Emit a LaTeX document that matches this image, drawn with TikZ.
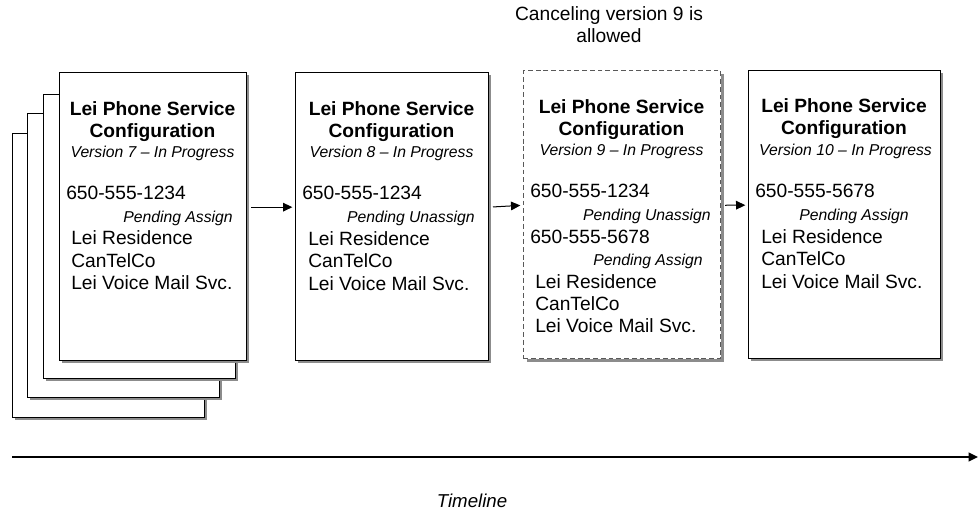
\documentclass[tikz,border=0pt]{standalone}
\usepackage{fontspec}
\setmainfont{Liberation Sans}
\usetikzlibrary{positioning,arrows.meta,shadows}
\tikzset{
card/.style={
draw,
line width=0.75pt,
fill=white,
anchor=north west,
minimum height=216pt,
inner sep=0pt,
drop shadow={shadow xshift=2.2pt,shadow yshift=-2.2pt,fill=black!45,opacity=1}
},
cardtitle/.style={
font=\fontsize{14.4}{17}\selectfont\bfseries,
anchor=base,
inner sep=0pt
},
cardver/.style={
font=\fontsize{11.8}{14}\selectfont\itshape,
anchor=base,
inner sep=0pt
},
item/.style={
font=\fontsize{14.4}{17}\selectfont,
anchor=base west,
inner sep=0pt
},
pend/.style={
font=\fontsize{11.8}{14}\selectfont\itshape,
anchor=base east,
inner sep=0pt
},
note/.style={
font=\fontsize{14.4}{16.5}\selectfont,
align=center,
inner sep=0pt
},
arrow/.style={
-{Triangle[length=7pt,width=6.5pt]},
line width=0.75pt,
shorten <=3pt,
shorten >=2pt
}
}

\begin{document}
\begin{tikzpicture}[x=0.75pt,y=-0.75pt]
\useasboundingbox (0,0) rectangle (978,514);

% older versions behind version 7
\foreach \n/\x/\y in {3/12/133,2/27/113,1/43/94}
\node[card,minimum width=144pt,minimum height=213pt](back\n) at (\x,\y){};

% version 7
\node[card,minimum width=140.25pt](v7) at (59,72){};
\node[cardtitle](v7a) at (152.5,115){Lei Phone Service};
\node[cardtitle](v7b) at (152.5,137){Configuration};
\node[cardver](v7c) at (152.5,157){Version 7 -- In Progress};
\node[item](v7d) at (66,199){650-555-1234};
\node[pend](v7e) at (233,222){Pending Assign};
\node[item](v7f) at (71,244){Lei Residence};
\node[item](v7g) at (71,267){CanTelCo};
\node[item](v7h) at (71,289){Lei Voice Mail Svc.};

% version 8
\node[card,minimum width=144.75pt](v8) at (295,72){};
\node[cardtitle](v8a) at (391.5,115){Lei Phone Service};
\node[cardtitle](v8b) at (391.5,137){Configuration};
\node[cardver](v8c) at (391.5,157){Version 8 -- In Progress};
\node[item](v8d) at (302,199){650-555-1234};
\node[pend](v8e) at (475,222){Pending Unassign};
\node[item](v8f) at (308,245){Lei Residence};
\node[item](v8g) at (308,267){CanTelCo};
\node[item](v8h) at (308,290){Lei Voice Mail Svc.};

% version 9 (may be canceled)
\node[card,minimum width=147.75pt,draw=black!65,line width=0.9pt,dash pattern=on 3.6pt off 2.2pt](v9) at (523,70){};
\node[cardtitle](v9a) at (621.5,113){Lei Phone Service};
\node[cardtitle](v9b) at (621.5,135){Configuration};
\node[cardver](v9c) at (621.5,155){Version 9 -- In Progress};
\node[item](v9d) at (530,197){650-555-1234};
\node[pend](v9e) at (711,220){Pending Unassign};
\node[item](v9f) at (530,243){650-555-5678};
\node[pend](v9g) at (703,265){Pending Assign};
\node[item](v9h) at (535,288){Lei Residence};
\node[item](v9i) at (535,310){CanTelCo};
\node[item](v9j) at (535,332){Lei Voice Mail Svc.};

% version 10
\node[card,minimum width=144pt](v10) at (748,70){};
\node[cardtitle](v10a) at (844,112){Lei Phone Service};
\node[cardtitle](v10b) at (844,134){Configuration};
\node[cardver](v10c) at (845.5,155){Version 10 -- In Progress};
\node[item](v10d) at (755,197){650-555-5678};
\node[pend](v10e) at (909,220){Pending Assign};
\node[item](v10f) at (761,243){Lei Residence};
\node[item](v10g) at (761,265){CanTelCo};
\node[item](v10h) at (761,288){Lei Voice Mail Svc.};

\foreach \x/\y in {v7/v8,v8/v9,v9/v10}
\draw[arrow]([yshift=7pt]\x.east)--([yshift=7pt]\y.west);

\node[note](cancel) at (609,25){Canceling version 9 is\\allowed};

% timeline
\coordinate(tl0) at (12,457);
\coordinate(tl1) at (978,457);
\draw[arrow,line width=1.1pt,shorten <=0pt,shorten >=0pt](tl0)--(tl1);
\node[note,font=\fontsize{14}{16}\selectfont\itshape](tl) at (472,501){Timeline};
\end{tikzpicture}
\end{document}
